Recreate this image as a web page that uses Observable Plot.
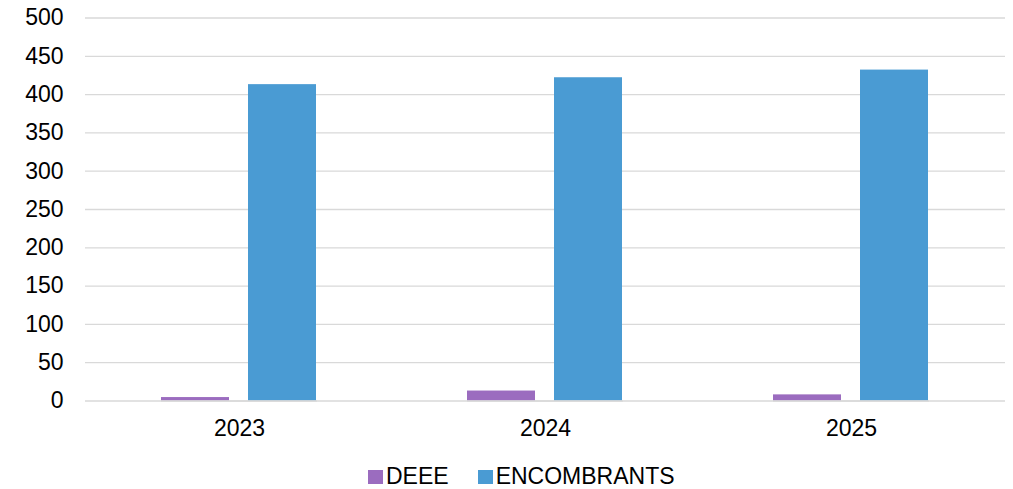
<!DOCTYPE html>
<html>
<head>
<meta charset="utf-8">
<script src="https://cdn.jsdelivr.net/npm/d3@7"></script>
<script src="https://cdn.jsdelivr.net/npm/@observablehq/plot@0.6"></script>
<style>
  html, body { margin: 0; padding: 0; background: #fff; }
  body { width: 1013px; height: 489px; position: relative; overflow: hidden; font-family: "Liberation Sans", Arial, sans-serif; }
  #back, #front { position: absolute; left: 0; top: 0; }
  #legend { position: absolute; left: 368px; top: 465px; font-size: 23px; line-height: 23px; white-space: nowrap; color: #000; }
  #legend .item { display: inline-block; margin-right: 29px; }
  #legend .sw { display: inline-block; width: 15px; height: 14px; margin-right: 3px; }
</style>
</head>
<body>
<div id="back"></div>
<div id="front"></div>
<div id="legend"></div>
<script>
const years = ["2023", "2024", "2025"];
const series = ["DEEE", "ENCOMBRANTS"];
const deee = [4.5, 13, 8];
const encombrants = [413, 422, 432];
const yTicks = [0, 50, 100, 150, 200, 250, 300, 350, 400, 450, 500];
const colors = ["#9b6cbf", "#4a9bd3"];

const data = years.flatMap((yr, i) => [
  {year: yr, series: series[0], value: deee[i]},
  {year: yr, series: series[1], value: encombrants[i]}
]);

const common = {
  width: 1013,
  height: 455,
  marginLeft: 85,
  marginRight: 8,
  marginTop: 17.5,
  marginBottom: 54.5,
  y: {domain: [0, 500], label: null, axis: null},
  style: {fontFamily: "'Liberation Sans', Arial, sans-serif", fontSize: "23px", color: "#000", background: "transparent", overflow: "visible"}
};

// Background layer: gridlines, y axis, year labels
const back = Plot.plot({
  ...common,
  x: {domain: years, paddingInner: 0.49, paddingOuter: 0.245, label: null},
  marks: [
    Plot.ruleY(yTicks, {stroke: "#d9d9d9", strokeWidth: 1.3}),
    Plot.axisY({ticks: yTicks, tickSize: 0, tickPadding: 22, fontSize: 23, label: null}),
    Plot.axisX({anchor: "bottom", tickSize: 0, tickPadding: 19, fontSize: 23, label: null})
  ]
});
document.getElementById("back").appendChild(back);

// Foreground layer: grouped bars
const front = Plot.plot({
  ...common,
  x: {axis: null, domain: series, paddingInner: 0.215, paddingOuter: 0},
  fx: {axis: null, domain: years, paddingInner: 0.49, paddingOuter: 0.245, label: null},
  color: {domain: series, range: colors},
  marks: [
    Plot.barY(data, {fx: "year", x: "series", y: "value", fill: "series"}),
    Plot.ruleY([0], {stroke: "#d9d9d9", strokeWidth: 1.3})
  ]
});
document.getElementById("front").appendChild(front);

const legend = document.getElementById("legend");
series.forEach((s, i) => {
  const item = document.createElement("span");
  item.className = "item";
  const sw = document.createElement("span");
  sw.className = "sw";
  sw.style.background = colors[i];
  item.appendChild(sw);
  item.appendChild(document.createTextNode(s));
  legend.appendChild(item);
});
</script>
</body>
</html>
